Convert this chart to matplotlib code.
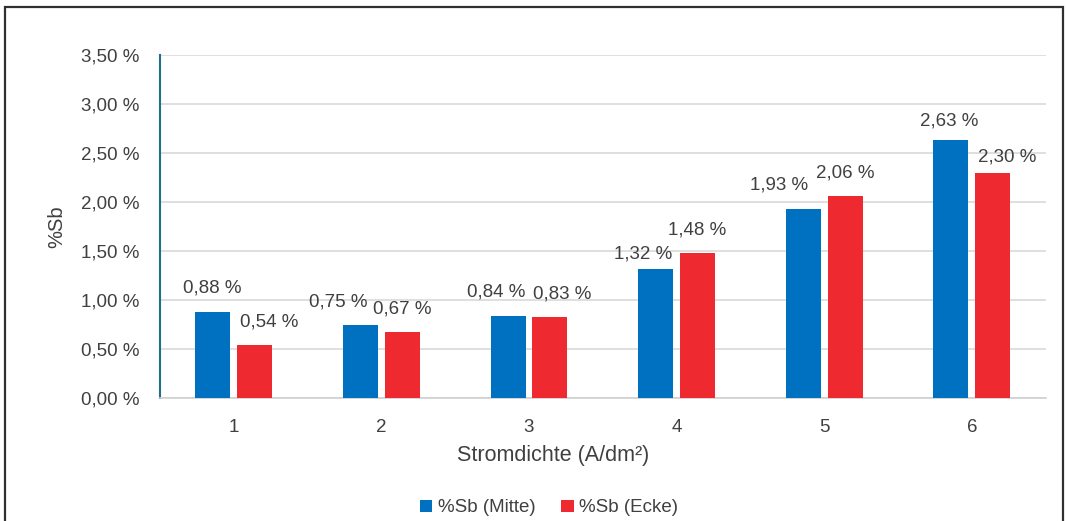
import matplotlib.pyplot as plt
from matplotlib.patches import Rectangle
import numpy as np

plt.rcParams['font.family'] = ['Liberation Sans', 'DejaVu Sans']

# Sb-Gehalt je Stromdichte
stromdichte = ['1', '2', '3', '4', '5', '6']
sb_mitte = [0.88, 0.75, 0.84, 1.32, 1.93, 2.63]
sb_ecke = [0.54, 0.67, 0.83, 1.48, 2.06, 2.30]

# Verschiebung der Wertebeschriftungen (Pixel: seitlich, nach oben)
versatz_mitte = [(-1, 24), (-22, 23), (-12, 24), (-13, 15), (-24, 24), (-2, 19)]
versatz_ecke = [(15, 23), (0, 23), (12, 23), (0, 23), (0, 23), (14, 16)]

blau = '#0070C0'
rot = '#EE2A30'
text_col = '#404040'

fig = plt.figure(figsize=(10.66, 5.21), dpi=100)
ax = fig.add_axes([0.150, 0.236, 0.831, 0.658])

x = np.arange(len(stromdichte))
w = 0.237
b1 = ax.bar(x - 0.142, sb_mitte, w, color=blau, label='%Sb (Mitte)', zorder=3)
b2 = ax.bar(x + 0.142, sb_ecke, w, color=rot, label='%Sb (Ecke)', zorder=3)

def fmt(v):
    return f'{v:.2f}'.replace('.', ',') + ' %'

for bars, vals, vers in ((b1, sb_mitte, versatz_mitte), (b2, sb_ecke, versatz_ecke)):
    for b, v, (dx, dy) in zip(bars, vals, vers):
        ax.annotate(fmt(v), (b.get_x() + b.get_width() / 2, v),
                    xytext=(dx, dy), textcoords='offset pixels',
                    ha='center', va='center', fontsize=13.5, color=text_col)

ax.set_xlim(-0.5, len(stromdichte) - 0.5)
ax.set_ylim(0, 3.5)
ticks = np.arange(0, 3.51, 0.5)
ax.set_yticks(ticks)
ax.set_yticklabels([fmt(t) for t in ticks])
ax.set_xticks(x)
ax.set_xticklabels(stromdichte)
ax.tick_params(axis='both', length=0, labelsize=13.5, colors=text_col)
ax.tick_params(axis='y', pad=15)
ax.tick_params(axis='x', pad=15)

ax.yaxis.grid(True, color='#D9D9D9', linewidth=1.2, zorder=0)
ax.set_axisbelow(True)
for s in ('top', 'right'):
    ax.spines[s].set_visible(False)
ax.spines['left'].set_color('#1F6E8C')
ax.spines['left'].set_linewidth(1.5)
ax.spines['bottom'].set_color('#D0D0D0')
ax.spines['bottom'].set_linewidth(1.2)

fig.text(57 / 1066, 1 - 227 / 521, '%Sb', rotation=90, ha='center', va='center',
         fontsize=14.5, color=text_col)
fig.text(553 / 1066, 1 - 456 / 521, 'Stromdichte (A/dm²)', ha='center', va='center',
         fontsize=15.5, color=text_col)

fig.legend(handles=[b1, b2], loc='center', bbox_to_anchor=(549 / 1066, 1 - 508 / 521),
           ncol=2, frameon=False, fontsize=13.5, handlelength=0.65, handleheight=0.65,
           handletextpad=0.3, columnspacing=1.4, labelcolor=text_col)

# Rahmen um das Diagramm
fig.patches.append(Rectangle((5 / 1066, -0.05), 1058 / 1066, 1 - 7 / 521 + 0.05,
                             transform=fig.transFigure, fill=False,
                             edgecolor='#303030', linewidth=1.6))

fig.savefig('out.png', dpi=100)
